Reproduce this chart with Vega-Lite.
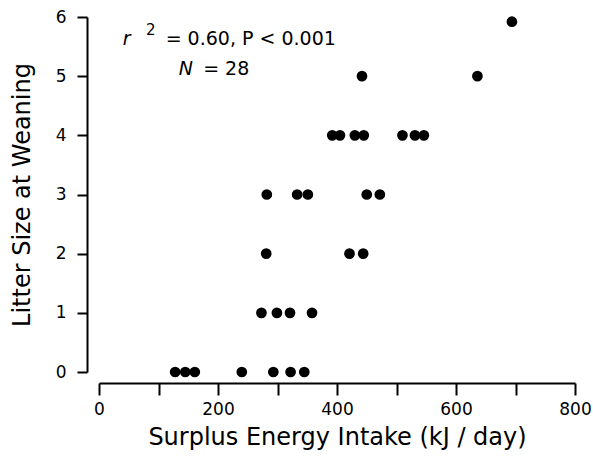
{
  "$schema": "https://vega.github.io/schema/vega-lite/v6.json",
  "width": 476,
  "height": 355,
  "autosize": {"type": "none"},
  "padding": {"left": 99, "top": 17, "right": 18, "bottom": 88},
  "background": "white",
  "config": {
    "view": {"stroke": null},
    "font": "DejaVu Sans",
    "axis": {
      "grid": false,
      "domainColor": "black",
      "domainWidth": 2,
      "tickColor": "black",
      "tickWidth": 2,
      "labelColor": "black",
      "titleColor": "black",
      "labelFont": "DejaVu Sans",
      "titleFont": "DejaVu Sans",
      "titleFontWeight": "normal",
      "labelFlush": false
    }
  },
  "datasets": {
    "pts": [
      {"energy": 128, "litter": 0}, {"energy": 145, "litter": 0}, {"energy": 161, "litter": 0},
      {"energy": 240, "litter": 0}, {"energy": 293, "litter": 0}, {"energy": 322, "litter": 0},
      {"energy": 345, "litter": 0},
      {"energy": 273, "litter": 1}, {"energy": 299, "litter": 1}, {"energy": 321, "litter": 1},
      {"energy": 358, "litter": 1},
      {"energy": 281, "litter": 2}, {"energy": 421, "litter": 2}, {"energy": 444, "litter": 2},
      {"energy": 282, "litter": 3}, {"energy": 333, "litter": 3}, {"energy": 351, "litter": 3},
      {"energy": 450, "litter": 3}, {"energy": 472, "litter": 3},
      {"energy": 392, "litter": 4}, {"energy": 405, "litter": 4}, {"energy": 430, "litter": 4},
      {"energy": 445, "litter": 4}, {"energy": 510, "litter": 4}, {"energy": 531, "litter": 4},
      {"energy": 546, "litter": 4},
      {"energy": 442, "litter": 5}, {"energy": 636, "litter": 5},
      {"energy": 694, "litter": 5.92}
    ],
    "italic": [
      {"x": 40, "y": 5.52, "t": "r"},
      {"x": 134, "y": 5.02, "t": "N"}
    ],
    "plain": [
      {"x": 112, "y": 5.52, "t": "= 0.60, P < 0.001"},
      {"x": 175, "y": 5.02, "t": "= 28"}
    ],
    "sup": [
      {"x": 79, "y": 5.52, "t": "2"}
    ]
  },
  "layer": [
    {
      "data": {"name": "pts"},
      "mark": {"type": "point", "filled": true, "shape": "circle", "size": 115, "color": "black", "opacity": 1},
      "encoding": {
        "x": {
          "field": "energy", "type": "quantitative",
          "scale": {"domain": [0, 800], "nice": false, "zero": false},
          "axis": {
            "title": "Surplus Energy Intake (kJ / day)",
            "values": [0, 100, 200, 300, 400, 500, 600, 700, 800],
            "labelExpr": "datum.value % 200 === 0 ? datum.label : ''",
            "offset": 11,
            "tickSize": 12,
            "labelFontSize": 17,
            "labelPadding": 6,
            "titleFontSize": 24,
            "titlePadding": 8
          }
        },
        "y": {
          "field": "litter", "type": "quantitative",
          "scale": {"domain": [0, 6], "nice": false, "zero": false},
          "axis": {
            "title": "Litter Size at Weaning",
            "values": [0, 1, 2, 3, 4, 5, 6],
            "format": "d",
            "offset": 12,
            "tickSize": 10,
            "labelFontSize": 17,
            "labelPadding": 11,
            "titleFontSize": 24,
            "titlePadding": 21
          }
        }
      }
    },
    {
      "data": {"name": "italic"},
      "mark": {"type": "text", "align": "left", "baseline": "alphabetic", "fontStyle": "italic", "fontSize": 19, "color": "black", "font": "DejaVu Sans"},
      "encoding": {
        "x": {"field": "x", "type": "quantitative"},
        "y": {"field": "y", "type": "quantitative"},
        "text": {"field": "t"}
      }
    },
    {
      "data": {"name": "plain"},
      "mark": {"type": "text", "align": "left", "baseline": "alphabetic", "fontSize": 19, "color": "black", "font": "DejaVu Sans"},
      "encoding": {
        "x": {"field": "x", "type": "quantitative"},
        "y": {"field": "y", "type": "quantitative"},
        "text": {"field": "t"}
      }
    },
    {
      "data": {"name": "sup"},
      "mark": {"type": "text", "align": "left", "baseline": "alphabetic", "fontSize": 15, "color": "black", "font": "DejaVu Sans", "dy": -10},
      "encoding": {
        "x": {"field": "x", "type": "quantitative"},
        "y": {"field": "y", "type": "quantitative"},
        "text": {"field": "t"}
      }
    }
  ]
}
